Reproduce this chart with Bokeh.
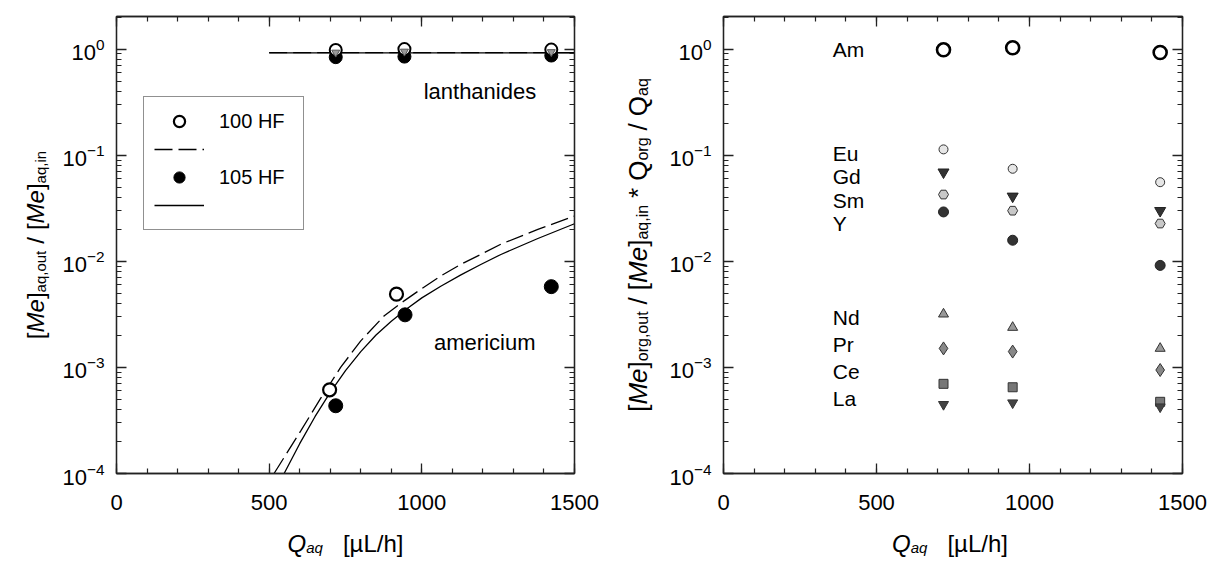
import math
from bokeh.plotting import figure
from bokeh.models import (FixedTicker, LogAxis, LinearAxis, LogTickFormatter,
                          CustomJSTickFormatter, Label, Legend, LegendItem)
from bokeh.layouts import row, column
from bokeh.embed import file_html
from bokeh.resources import INLINE
from bokeh.core.properties import value

FONT = "Liberation Sans"

# ---------------- data: left panel (aqueous phase) ----------------
am_100_q = [698, 917]
am_100_ratio = [6.15e-4, 4.9e-3]
am_105_q = [718, 945, 1424]
am_105_ratio = [4.35e-4, 3.13e-3, 5.77e-3]

ln_q = [718, 943, 1424]
ln_100_ratio = [0.98, 1.00, 0.99]
ln_mid_ratio = [0.93, 0.95, 0.94]
ln_105_ratio = [0.84, 0.85, 0.87]

fit_100_q = [516, 603, 669, 734, 800, 876, 942, 997, 1062, 1128, 1193, 1259, 1380, 1500]
fit_100_ratio = [1.00e-4, 2.51e-4, 5.13e-4, 1.00e-3, 1.78e-3, 3.05e-3, 4.24e-3,
                 5.46e-3, 7.28e-3, 9.38e-3, 1.16e-2, 1.45e-2, 2.00e-2, 2.67e-2]
fit_105_q = [549, 600, 650, 700, 750, 800, 850, 900, 950, 1000, 1062, 1128, 1193, 1259, 1380, 1500]
fit_105_ratio = [1.00e-4, 1.91e-4, 3.43e-4, 5.82e-4, 9.33e-4, 1.41e-3, 2.02e-3, 2.72e-3,
                 3.55e-3, 4.52e-3, 5.82e-3, 7.45e-3, 9.33e-3, 1.16e-2, 1.64e-2, 2.26e-2]
ln_fit_q = [500, 1500]
ln_fit_100 = [0.925, 0.925]
ln_fit_105 = [0.92, 0.92]

# ---------------- data: right panel (organic phase) ----------------
q_org = [719, 945, 1427]
elements = ["Am", "Eu", "Gd", "Sm", "Y", "Nd", "Pr", "Ce", "La"]
org_ratio = {
    "Am": [0.985, 1.03, 0.93],
    "Eu": [0.1135, 0.0745, 0.0557],
    "Gd": [0.0692, 0.041, 0.030],
    "Sm": [0.0426, 0.030, 0.0227],
    "Y":  [0.0292, 0.0158, 0.00915],
    "Nd": [3.18e-3, 2.38e-3, 1.51e-3],
    "Pr": [1.51e-3, 1.41e-3, 9.45e-4],
    "Ce": [7.0e-4, 6.5e-4, 4.74e-4],
    "La": [4.48e-4, 4.64e-4, 4.25e-4],
}
# element-name label anchors (annotation positions)
label_x = 357
label_y = {"Am": 0.985, "Eu": 0.104, "Gd": 0.063, "Sm": 0.0374, "Y": 0.0227,
           "Nd": 2.95e-3, "Pr": 1.63e-3, "Ce": 9.1e-4, "La": 5.06e-4}

x_major = [0, 500, 1000, 1500]
x_minor = list(range(0, 1501, 100))
y_major = [1e-4, 1e-3, 1e-2, 1e-1, 1.0]
y_minor = [m * 10.0 ** e for e in range(-4, 1) for m in range(2, 10)]
Y_RANGE = (1e-4, 2.03)

# ---------------- helpers ----------------
AW = {' ': 278, '[': 278, ']': 278, 'M': 833, 'e': 556, 'a': 556, 'q': 556, ',': 278,
      'o': 556, 'u': 556, 't': 278, '/': 278, 'i': 222, 'n': 556, 'r': 333, 'g': 556,
      '*': 389, 'Q': 778, 'µ': 576, 'L': 556, 'h': 556}


def tw(s, size):
    return sum(AW.get(c, 556) for c in s) * size / 1000.0


def rich_label(p, pieces, center, base, vertical, sub_off=5):
    """pieces: (text, size, italic, sub) ; text None means a gap of `size` px"""
    total = sum(size if t is None else tw(t, size) for t, size, it, sub in pieces)
    pos = center - total / 2.0
    for t, size, italic, sub in pieces:
        if t is None:
            pos += size
            continue
        off = sub_off if sub else 0
        kw = dict(text=t, x_units="screen", y_units="screen", text_font=FONT,
                  text_font_size=f"{size}px", text_color="black",
                  text_font_style="italic" if italic else "normal",
                  text_align="left", text_baseline="alphabetic")
        if vertical:
            lbl = Label(x=base + off, y=pos, angle=math.pi / 2, angle_units="rad", **kw)
        else:
            lbl = Label(x=pos, y=base - off, **kw)
        p.add_layout(lbl)
        pos += tw(t, size)


def label_canvas(width, height):
    f = figure(width=width, height=height, x_range=(0, width), y_range=(0, height),
               output_backend="svg", toolbar_location=None, min_border=0, title=None,
               x_axis_location=None, y_axis_location=None)
    f.grid.visible = False
    f.outline_line_color = None
    f.background_fill_color = "white"
    f.border_fill_color = "white"
    return f


def style_axis(ax, labels=True):
    ax.axis_line_color = "#222"
    ax.axis_line_width = 1.3
    ax.major_tick_line_color = "#222"
    ax.minor_tick_line_color = "#222"
    ax.major_tick_line_width = 1.3
    ax.minor_tick_line_width = 1.2
    ax.major_tick_in = 10
    ax.major_tick_out = 0
    ax.minor_tick_in = 5
    ax.minor_tick_out = 0
    ax.major_label_text_font = FONT
    ax.major_label_text_color = "black"
    ax.major_label_text_font_size = "22px"
    if not labels:
        ax.formatter = CustomJSTickFormatter(code="return '';")
        ax.major_label_standoff = 0


def make_fig(width, bl, br):
    p = figure(width=width, height=520, x_range=(0, 1500), y_range=Y_RANGE,
               y_axis_type="log", output_backend="svg", toolbar_location=None,
               min_border_left=bl, min_border_right=br, min_border_top=16,
               min_border_bottom=47)
    p.grid.visible = False
    p.outline_line_color = "#222"
    p.outline_line_width = 1.3
    p.background_fill_color = "white"
    p.border_fill_color = "white"
    xt = FixedTicker(ticks=x_major, minor_ticks=x_minor)
    yt = FixedTicker(ticks=y_major, minor_ticks=y_minor)
    p.xaxis.ticker = xt
    p.yaxis.ticker = yt
    p.yaxis.formatter = LogTickFormatter()
    style_axis(p.xaxis[0])
    style_axis(p.yaxis[0])
    p.xaxis[0].major_label_standoff = 21
    p.yaxis[0].major_label_standoff = 12
    top = LinearAxis(ticker=xt)
    style_axis(top, labels=False)
    p.add_layout(top, "above")
    right = LogAxis(ticker=yt)
    style_axis(right, labels=False)
    p.add_layout(right, "right")
    return p


# ---------------- left panel ----------------
p1 = make_fig(558, 60, 40)

r_fit100 = p1.line(fit_100_q, fit_100_ratio, line_color="black", line_width=1.3, line_dash="18 6")
r_fit105 = p1.line(fit_105_q, fit_105_ratio, line_color="black", line_width=1.3)
p1.line(ln_fit_q, ln_fit_100, line_color="black", line_width=1.3, line_dash="18 6")
p1.line(ln_fit_q, ln_fit_105, line_color="black", line_width=1.3)

p1.scatter(ln_q, ln_105_ratio, marker="circle", size=13, fill_color="black", line_color="black")
p1.scatter(ln_q, ln_100_ratio, marker="circle", size=12, fill_color="white", line_color="black", line_width=2)
p1.scatter(ln_q, ln_mid_ratio, marker="inverted_triangle", size=8, fill_color="#999999", line_color="#555555")

r_am100 = p1.scatter(am_100_q, am_100_ratio, marker="circle", size=13, fill_color="white",
                     line_color="black", line_width=2.2)
r_am105 = p1.scatter(am_105_q, am_105_ratio, marker="circle", size=14, fill_color="black",
                     line_color="black")

p1.text([1006], [0.40], text=["lanthanides"], text_font=value(FONT), text_font_size="22px",
        text_baseline="middle", text_align="left", text_color="black")
p1.text([1040], [1.71e-3], text=["americium"], text_font=value(FONT), text_font_size="22px",
        text_baseline="middle", text_align="left", text_color="black")

legend = Legend(items=[
    LegendItem(label="100 HF", renderers=[r_am100]),
    LegendItem(label=" ", renderers=[r_fit100]),
    LegendItem(label="105 HF", renderers=[r_am105]),
    LegendItem(label=" ", renderers=[r_fit105]),
], location=(27, 243), glyph_width=50, glyph_height=28, label_height=28, spacing=0,
    padding=10, label_standoff=15, label_width=74, label_text_font=FONT,
    label_text_color="black",
    label_text_font_size="20px", border_line_color="#222", border_line_width=1.2,
    background_fill_color="white", background_fill_alpha=1.0)
p1.add_layout(legend)

# ---------------- right panel ----------------
p2 = make_fig(544, 57, 28)

styles = {
    "Am": dict(marker="circle", size=13, fill_color="white", line_color="black", line_width=2.6),
    "Eu": dict(marker="circle", size=9, fill_color="#e6e6e6", line_color="#333333", line_width=1),
    "Gd": dict(marker="inverted_triangle", size=11, fill_color="#333333", line_color="#222222", line_width=1),
    "Sm": dict(marker="hex", size=10, fill_color="#c8c8c8", line_color="#333333", line_width=1),
    "Y":  dict(marker="circle", size=10, fill_color="#333333", line_color="#222222", line_width=1),
    "Nd": dict(marker="triangle", size=10, fill_color="#999999", line_color="#333333", line_width=1),
    "Pr": dict(marker="diamond", size=13, fill_color="#888888", line_color="#333333", line_width=1),
    "Ce": dict(marker="square", size=9, fill_color="#777777", line_color="#333333", line_width=1),
    "La": dict(marker="inverted_triangle", size=10, fill_color="#444444", line_color="#333333", line_width=1),
}
for el in elements:
    p2.scatter(q_org, org_ratio[el], **styles[el])

p2.text([label_x] * len(elements), [label_y[e] for e in elements], text=elements,
        text_font=value(FONT), text_font_size="21px", text_baseline="middle",
        text_align="left", text_color="black")

# ---------------- axis titles (rich text) ----------------
ylab1 = label_canvas(56, 562)
rich_label(ylab1, [("[", 24, False, False), ("Me", 24, True, False), ("]", 24, False, False),
                   ("aq,out", 15, False, True), (None, 7, False, False), ("/", 24, False, False),
                   (None, 7, False, False), ("[", 24, False, False), ("Me", 24, True, False),
                   ("]", 24, False, False), ("aq,in", 15, False, True)], 317.5, 35, True)

xlab1 = label_canvas(558, 42)
rich_label(xlab1, [("Q", 24, True, False), ("aq", 15, True, True), (None, 20, False, False),
                   ("[µL/h]", 24, False, False)], 229, 19, False, sub_off=4)

ylab2 = label_canvas(52, 562)
rich_label(ylab2, [("[", 26, False, False), ("Me", 26, True, False), ("]", 26, False, False),
                   ("org,out", 16, False, True), (None, 7, False, False), ("/", 26, False, False),
                   (None, 7, False, False), ("[", 26, False, False), ("Me", 26, True, False),
                   ("]", 26, False, False), ("aq,in", 16, False, True), (None, 7, False, False),
                   ("*", 26, False, False), (None, 7, False, False), ("Q", 26, False, False),
                   ("org", 16, False, True), (None, 7, False, False), ("/", 26, False, False),
                   (None, 7, False, False), ("Q", 26, False, False), ("aq", 16, False, True)],
           317.5, 23, True)

xlab2 = label_canvas(544, 42)
rich_label(xlab2, [("Q", 24, True, False), ("aq", 15, True, True), (None, 20, False, False),
                   ("[µL/h]", 24, False, False)], 226.5, 19, False, sub_off=4)

layout = row(ylab1, column(p1, xlab1), ylab2, column(p2, xlab2))
open("out.html", "w").write(file_html(layout, INLINE))
